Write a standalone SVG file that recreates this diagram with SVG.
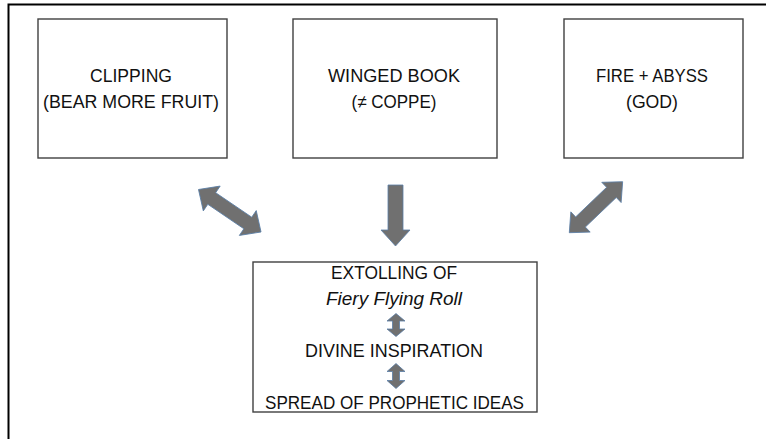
<svg xmlns="http://www.w3.org/2000/svg" width="766" height="439" viewBox="0 0 766 439">
<defs>
<style>
.box{fill:#fff;stroke:#404040;stroke-width:1.4}
.t{font-family:"Liberation Sans",Arial,sans-serif;font-size:18.5px;fill:#111;text-anchor:middle}
.i{font-style:italic}
.arr{fill:#707070;stroke:#5a7ea6;stroke-width:0.8;stroke-linejoin:miter}
</style>
</defs>
<rect width="766" height="439" fill="#fff"/>
<path d="M8.5,439 V4.5 H766" fill="none" stroke="#000" stroke-width="2"/>
<g id="node-clipping">
<rect class="box" x="38" y="19" width="189" height="139"/>
<text class="t" x="131" y="81.5" textLength="82" lengthAdjust="spacingAndGlyphs">CLIPPING</text>
<text class="t" x="131" y="108" textLength="176" lengthAdjust="spacingAndGlyphs">(BEAR MORE FRUIT)</text>
</g>
<g id="node-winged-book">
<rect class="box" x="293" y="19" width="204" height="139"/>
<text class="t" x="394" y="81.5" textLength="132" lengthAdjust="spacingAndGlyphs">WINGED BOOK</text>
<text class="t" x="394" y="108" textLength="85" lengthAdjust="spacingAndGlyphs">(≠ COPPE)</text>
</g>
<g id="node-fire-abyss">
<rect class="box" x="564" y="19" width="179" height="139"/>
<text class="t" x="652" y="81.5" textLength="112" lengthAdjust="spacingAndGlyphs">FIRE + ABYSS</text>
<text class="t" x="652" y="108" textLength="52" lengthAdjust="spacingAndGlyphs">(GOD)</text>
</g>
<g id="node-extolling">
<rect class="box" x="253" y="262" width="284" height="150"/>
<text class="t" x="394" y="279" textLength="126" lengthAdjust="spacingAndGlyphs">EXTOLLING OF</text>
<text class="t i" x="394" y="304.5" textLength="136" lengthAdjust="spacingAndGlyphs">Fiery Flying Roll</text>
<text class="t" x="394" y="356.5" textLength="178" lengthAdjust="spacingAndGlyphs">DIVINE INSPIRATION</text>
<text class="t" x="394.5" y="408.5" textLength="259" lengthAdjust="spacingAndGlyphs">SPREAD OF PROPHETIC IDEAS</text>
<path class="arr" d="M396,313.5 L405,321 H399.5 V329 H405 L396,336.5 L387,329 H392.5 V321 H387 Z"/>
<path class="arr" d="M396,363.5 L405,371.5 H399.5 V380.5 H405 L396,388.5 L387,380.5 H392.5 V371.5 H387 Z"/>
</g>
<g id="connectors">
<path class="arr" transform="translate(198.5,189.5) rotate(34.2)" d="M0,0 L16,-15 L16,-7 L59.6,-7 L59.6,-15 L75.6,0 L59.6,15 L59.6,7 L16,7 L16,15 Z"/>
<path class="arr" d="M388,185 H403 V230 H410 L395.5,246 L381,230 H388 Z"/>
<path class="arr" transform="translate(569.3,232.7) rotate(-43.7)" d="M0,0 L15.5,-14 L15.5,-7 L58.3,-7 L58.3,-14 L73.8,0 L58.3,14 L58.3,7 L15.5,7 L15.5,14 Z"/>
</g>
</svg>
